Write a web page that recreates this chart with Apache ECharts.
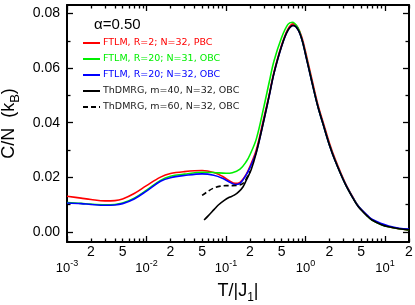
<!DOCTYPE html>
<html>
<head>
<meta charset="utf-8">
<script src="https://cdn.jsdelivr.net/npm/echarts@6/dist/echarts.min.js"></script>
<style>html,body{margin:0;padding:0;background:#fff}#c{width:415px;height:305px}</style>
</head>
<body>
<div id="c"></div>
<script>
// ---- data (T in units of |J1|, C/N in units of kB) ----
const alphaLabel = 'α=0.50';
const names = ['FTLM, R=2; N=32, PBC', 'FTLM, R=20; N=31, OBC', 'FTLM, R=20; N=32, OBC',
  'ThDMRG, m=40, N=32, OBC', 'ThDMRG, m=60, N=32, OBC'];

const redT = [0.001,0.0015,0.002,0.003,0.004,0.005,0.007,0.01,0.015,0.02,0.03,0.05,0.07,0.09,0.11,0.13,0.15,0.18,0.2,0.24,0.3,0.35,0.4,0.5,0.6,0.7,0.8,0.9,1.0,1.2,1.42,1.7,2.0,2.35,3.14,4,4.64,6,6.84,9,11.1,15,20];
const redC = [0.0131,0.0124,0.0119,0.0114,0.0115,0.0121,0.0141,0.0170,0.0201,0.0214,0.0221,0.0225,0.0218,0.0204,0.0188,0.0178,0.0182,0.0212,0.0240,0.0300,0.0420,0.0505,0.0585,0.0685,0.0743,0.0762,0.0748,0.0712,0.0660,0.0560,0.0470,0.0393,0.0325,0.0268,0.0181,0.0124,0.0094,0.0059,0.0045,0.0028,0.0019,0.0012,0.0008];

const greenT = [0.001,0.0015,0.002,0.003,0.004,0.005,0.007,0.01,0.015,0.02,0.03,0.05,0.07,0.1,0.12,0.15,0.18,0.2,0.24,0.3,0.35,0.4,0.5,0.6,0.68,0.8,0.9,1.0,1.2,1.42,1.7,2.0,2.35,3.14,4,4.64,6,6.84,9,11.1,15,20];
const greenC = [0.0108,0.0105,0.0102,0.0100,0.0101,0.0106,0.0124,0.0153,0.0189,0.0204,0.0212,0.0219,0.0218,0.0215,0.0217,0.0230,0.0258,0.0283,0.0340,0.0460,0.0550,0.0625,0.0712,0.0760,0.0768,0.0748,0.0706,0.0653,0.0552,0.0463,0.0386,0.0319,0.0263,0.0178,0.0122,0.0093,0.0058,0.0044,0.0027,0.0019,0.0012,0.0008];

const blueT = [0.001,0.0015,0.002,0.003,0.004,0.005,0.007,0.01,0.015,0.02,0.03,0.05,0.07,0.09,0.11,0.13,0.15,0.18,0.2,0.24,0.3,0.35,0.4,0.5,0.6,0.7,0.8,0.9,1.0,1.2,1.42,1.7,2.0,2.35,3.14,4,4.64,6,6.84,9,11.1,15,20];
const blueC = [0.0106,0.0104,0.0101,0.0098,0.0099,0.0104,0.0121,0.0150,0.0186,0.0199,0.0207,0.0213,0.0208,0.0197,0.0183,0.0174,0.0178,0.0210,0.0236,0.0292,0.0412,0.0500,0.0580,0.0680,0.0738,0.0756,0.0742,0.0705,0.0650,0.0550,0.0462,0.0385,0.0318,0.0262,0.0178,0.0122,0.0093,0.0061,0.0047,0.0031,0.0022,0.0014,0.0011];

const dmrg40T = [0.053,0.06,0.071,0.08,0.095,0.11,0.127,0.145,0.163,0.18,0.207,0.24,0.3,0.35,0.4,0.5,0.6,0.7,0.8,0.9,1.0,1.2,1.42,1.7,2.0,2.35,3.14,4,4.64,6,6.84,9,11.1,15,20];
const dmrg40C = [0.0044,0.0060,0.0083,0.0099,0.0116,0.0127,0.0135,0.0148,0.0165,0.0190,0.0228,0.0290,0.0410,0.0500,0.0580,0.0680,0.0738,0.0756,0.0742,0.0705,0.0650,0.0550,0.0462,0.0385,0.0318,0.0262,0.0177,0.0121,0.0092,0.0058,0.0044,0.0027,0.0019,0.0012,0.0008];

const dmrg60T = [0.05,0.06,0.07,0.085,0.1,0.12,0.14,0.16,0.18,0.2];
const dmrg60C = [0.0134,0.0150,0.0161,0.0168,0.0170,0.0170,0.0171,0.0176,0.0195,0.0222];

// ---- axis ticks ----
const xMajorT = [0.001, 0.01, 0.1, 1, 10];
const xMinorLabelT = [0.002, 0.005, 0.02, 0.05, 0.2, 0.5, 2, 5, 20];
const xMinT = 0.001, xMaxT = 20;
const yMajor = [0, 0.02, 0.04, 0.06, 0.08];
const yMinor = [0.01, 0.03, 0.05, 0.07];
const yMin = -0.00365, yMax = 0.0831;

const lg = Math.log10;
const xMinorTicks = [];
xMajorT.forEach(d => { for (let k = 2; k <= 9; k++) { const t = k * d; if (t <= xMaxT + 1e-9) xMinorTicks.push(lg(t)); } });
const pairs = (T, C) => T.map((t, i) => [lg(t), C[i]]);

const FONT = 'Liberation Sans, Arial, sans-serif';
const xBase = { type: 'value', min: lg(xMinT), max: lg(xMaxT), gridIndex: 0, splitLine: { show: false } };
const yBase = { type: 'value', min: yMin, max: yMax, splitLine: { show: false } };
const tickLS = { color: '#000', width: 1.3 };
const axLS = { show: true, onZero: false, lineStyle: { color: '#000', width: 2 } };
const noLine = { show: false, onZero: false };

const chart = echarts.init(document.getElementById('c'), null, { renderer: 'canvas' });
chart.setOption({
  animation: false,
  backgroundColor: '#fff',
  textStyle: { fontFamily: FONT },
  title: { text: alphaLabel, left: 89, top: 12, textStyle: { fontSize: 15, fontWeight: 'normal', color: '#000', fontFamily: FONT } },
  grid: { left: 67, right: 6, top: 5, bottom: 63, containLabel: false, outerBoundsMode: 'none' },
  legend: {
    orient: 'vertical', left: 82, top: 38, itemWidth: 17, itemHeight: 10, itemGap: 6, padding: 0,
    itemStyle: { opacity: 0 },
    textStyle: { fontSize: 9.5, fontFamily: 'DejaVu Sans, sans-serif', padding: [0, 0, 0, -2] },
    data: [
      { name: names[0], textStyle: { color: '#ff0000' } },
      { name: names[1], textStyle: { color: '#00ee00' } },
      { name: names[2], textStyle: { color: '#0000ff' } },
      { name: names[3], textStyle: { color: '#222' } },
      { name: names[4], textStyle: { color: '#222' } }
    ]
  },
  xAxis: [
    Object.assign({}, xBase, { position: 'bottom', axisLine: axLS,
      axisTick: { inside: true, length: 6, lineStyle: tickLS, customValues: xMajorT.map(lg) },
      axisLabel: { customValues: xMajorT.map(lg), margin: 17, color: '#000',
        formatter: v => '{a|10}{b|' + Math.round(v) + '}',
        rich: { a: { fontSize: 13, fontFamily: FONT, verticalAlign: 'bottom', color: '#000' },
                b: { fontSize: 9, fontFamily: FONT, verticalAlign: 'bottom', padding: [0, 0, 7, 0], color: '#000' } } },
      name: '{a|T/|J}{s|1}{a||}', nameLocation: 'middle', nameGap: 40,
      nameTextStyle: { rich: { a: { fontSize: 18, fontFamily: FONT, color: '#000', verticalAlign: 'bottom', padding: [0, 0, 4, 0] },
                               s: { fontSize: 12, fontFamily: FONT, color: '#000', verticalAlign: 'bottom' } } } }),
    Object.assign({}, xBase, { position: 'bottom', axisLine: noLine,
      axisTick: { inside: true, length: 3.5, lineStyle: tickLS, customValues: xMinorTicks },
      axisLabel: { customValues: xMinorLabelT.map(lg), margin: 3, fontSize: 14, color: '#000', fontFamily: FONT,
        formatter: v => String(Math.round(Math.pow(10, v) / Math.pow(10, Math.floor(v + 1e-9)))) } }),
    Object.assign({}, xBase, { position: 'top', axisLine: axLS,
      axisTick: { inside: true, length: 6, lineStyle: tickLS, customValues: xMajorT.map(lg) },
      axisLabel: { show: false } }),
    Object.assign({}, xBase, { position: 'top', axisLine: noLine,
      axisTick: { inside: true, length: 3.5, lineStyle: tickLS, customValues: xMinorTicks },
      axisLabel: { show: false } })
  ],
  yAxis: [
    Object.assign({}, yBase, { position: 'left', axisLine: axLS,
      axisTick: { inside: true, length: 6, lineStyle: tickLS, customValues: yMajor },
      axisLabel: { customValues: yMajor, margin: 7, fontSize: 14, color: '#000', fontFamily: FONT, formatter: v => v.toFixed(2) },
      name: '{a|C/N  (k}{s|B}{a|)}', nameLocation: 'middle', nameGap: 43, nameRotate: 90,
      nameTextStyle: { rich: { a: { fontSize: 18, fontFamily: FONT, color: '#000', verticalAlign: 'bottom', padding: [0, 0, 4, 0] },
                               s: { fontSize: 13, fontFamily: FONT, color: '#000', verticalAlign: 'bottom' } } } }),
    Object.assign({}, yBase, { position: 'left', axisLine: noLine,
      axisTick: { inside: true, length: 3.5, lineStyle: tickLS, customValues: yMinor }, axisLabel: { show: false } }),
    Object.assign({}, yBase, { position: 'right', axisLine: axLS,
      axisTick: { inside: true, length: 6, lineStyle: tickLS, customValues: yMajor }, axisLabel: { show: false } }),
    Object.assign({}, yBase, { position: 'right', axisLine: noLine,
      axisTick: { inside: true, length: 3.5, lineStyle: tickLS, customValues: yMinor }, axisLabel: { show: false } })
  ],
  series: [
    { name: names[0], type: 'line', data: pairs(redT, redC), color: '#ff0000' },
    { name: names[1], type: 'line', data: pairs(greenT, greenC), color: '#00ee00' },
    { name: names[2], type: 'line', data: pairs(blueT, blueC), color: '#0000ff' },
    { name: names[4], type: 'line', data: pairs(dmrg60T, dmrg60C), color: '#000', lineStyle: { type: [5, 3] } },
    { name: names[3], type: 'line', data: pairs(dmrg40T, dmrg40C), color: '#000' }
  ].map(s => Object.assign({ symbol: 'none', smooth: 0.35, xAxisIndex: 0, yAxisIndex: 0 }, s,
      { lineStyle: Object.assign({ width: 1.6 }, s.lineStyle || {}) }))
});
</script>
</body>
</html>
